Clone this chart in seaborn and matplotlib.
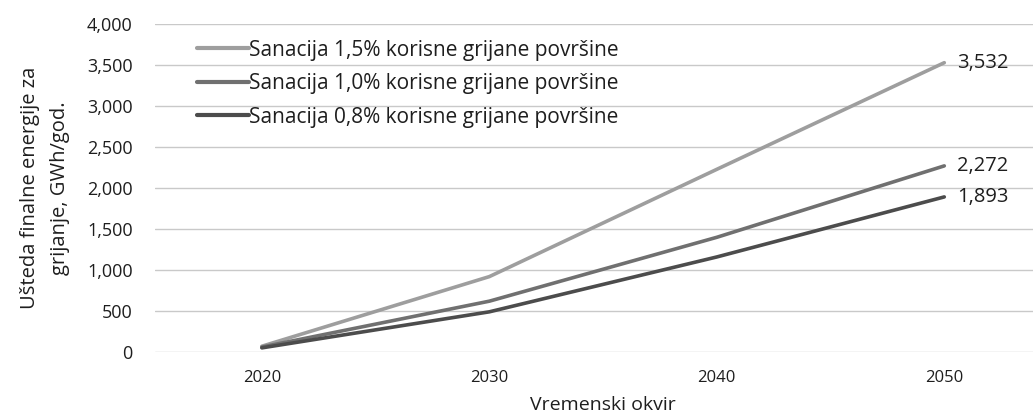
import matplotlib
matplotlib.use("Agg")
import matplotlib.pyplot as plt
import seaborn as sns
import pandas as pd
from matplotlib.ticker import FuncFormatter

years = [2020, 2030, 2040, 2050]
s15 = [70, 920, 2230, 3532]
s10 = [60, 620, 1400, 2272]
s08 = [50, 490, 1160, 1893]
labels = ["Sanacija 1,5% korisne grijane površine",
          "Sanacija 1,0% korisne grijane površine",
          "Sanacija 0,8% korisne grijane površine"]
end_labels = ["3,532", "2,272", "1,893"]
y_ticks = [0, 500, 1000, 1500, 2000, 2500, 3000, 3500, 4000]

sns.set_theme(style="white")
plt.rcParams["font.family"] = ["Open Sans", "DejaVu Sans"]

rows = []
for lab, vals in zip(labels, [s15, s10, s08]):
    for x, v in zip(years, vals):
        rows.append({"year": x, "value": v, "series": lab})
df = pd.DataFrame(rows)

txt = "#1e1e1e"
colors = ["#9e9e9e", "#707070", "#4c4c4c"]
fig = plt.figure(figsize=(10.33, 4.2), dpi=100)
ax = fig.add_axes([0.15, 0.162, 0.85, 0.78])
sns.lineplot(data=df, x="year", y="value", hue="series", palette=colors,
             linewidth=2.6, ax=ax)

ax.set_xlim(2015.3, 2053.9)
ax.set_ylim(0, 4000)
ax.set_yticks(y_ticks)
ax.yaxis.set_major_formatter(FuncFormatter(lambda v, p: f"{int(v):,}"))
ax.set_xticks(years)
ax.grid(axis="y", color="#c9c9c9", linewidth=1.0)
ax.grid(axis="x", visible=False)
for s in ax.spines.values():
    s.set_visible(False)
ax.tick_params(axis="y", labelsize=13, colors=txt, pad=16, length=0)
ax.tick_params(axis="x", labelsize=12, colors=txt, pad=13, length=0)
ax.set_xlabel("Vremenski okvir", fontsize=14, color=txt)
ax.xaxis.set_label_coords(0.51, -0.135)
ax.set_ylabel("Ušteda finalne energije za\ngrijanje, GWh/god.", fontsize=14.5,
              color=txt, labelpad=12, linespacing=1.7)

for vals, t in zip([s15, s10, s08], end_labels):
    ax.annotate(t, xy=(years[-1], vals[-1]), xytext=(9, 0),
                textcoords="offset points", va="center", ha="left",
                fontsize=14.5, color=txt)

leg = ax.legend(loc="upper left", bbox_to_anchor=(0.036, 0.985), frameon=False,
                fontsize=15, handlelength=2.5, handletextpad=0.0,
                labelspacing=0.6, borderaxespad=0.1, title=None)
for line in leg.get_lines():
    line.set_linewidth(3)
for t in leg.get_texts():
    t.set_color(txt)

fig.savefig("out.png", dpi=100, facecolor="white")
